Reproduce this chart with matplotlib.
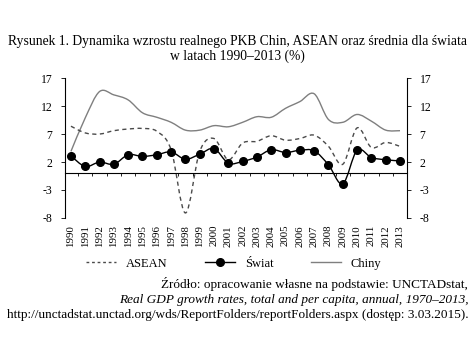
import numpy as np
import matplotlib
matplotlib.use("Agg")
import matplotlib.pyplot as plt
from matplotlib.path import Path
from matplotlib.patches import PathPatch
from matplotlib.lines import Line2D

plt.rcParams['font.family'] = ['Liberation Serif', 'DejaVu Serif']

years = np.arange(1990, 2014)
chiny = [3.9, 9.9, 14.6, 14.0, 13.1, 10.8, 10.0, 9.1, 7.7, 7.7, 8.5, 8.3,
         9.1, 10.1, 10.0, 11.6, 12.8, 14.2, 9.6, 9.1, 10.5, 9.3, 7.7, 7.6]
asean = [8.4, 7.2, 7.0, 7.6, 7.9, 8.0, 7.5, 4.2, -7.1, 3.9, 6.2, 2.4,
         5.4, 5.7, 6.7, 5.9, 6.2, 6.8, 4.8, 1.6, 8.1, 4.6, 5.5, 4.8]
swiat = [3.1, 1.2, 2.0, 1.6, 3.3, 3.0, 3.3, 3.8, 2.5, 3.4, 4.4, 1.8,
         2.1, 2.9, 4.2, 3.7, 4.1, 4.0, 1.5, -1.9, 4.1, 2.8, 2.4, 2.2]
yticks = [17, 12, 7, 2, -3, -8]


def smooth_path(x, y):
    # gladka linia jak w Excelu (Catmull-Rom -> Bezier)
    p = np.column_stack([x, y]).astype(float)
    pe = np.vstack([p[0], p, p[-1]])
    verts = [p[0]]
    codes = [Path.MOVETO]
    for i in range(len(p) - 1):
        p0, p1, p2, p3 = pe[i], pe[i + 1], pe[i + 2], pe[i + 3]
        verts += [p1 + (p2 - p0) / 6, p2 - (p3 - p1) / 6, p2]
        codes += [Path.CURVE4] * 3
    return Path(verts, codes)


fig = plt.figure(figsize=(4.74, 3.55), dpi=100)
ax = fig.add_axes([0.137, 0.386, 0.722, 0.394])

ax.add_patch(PathPatch(smooth_path(years, chiny), fill=False, ec='#7f7f7f', lw=1.0))
ax.add_patch(PathPatch(smooth_path(years, asean), fill=False, ec='#4a4a4a', lw=1.0, ls=(0, (3, 2.5))))
ax.add_patch(PathPatch(smooth_path(years, swiat), fill=False, ec='black', lw=1.0))
ax.plot(years, swiat, 'o', color='black', ms=5.5, ls='none')

ax.set_xlim(1989.58, 2013.5)
ax.set_ylim(-8, 17)

ax.spines['top'].set_color('none')
ax.spines['right'].set_color('none')
ax.spines['bottom'].set_position(('data', 0))
ax.spines['bottom'].set_linewidth(0.8)
ax.spines['left'].set_linewidth(0.8)
ax.set_xticks(years[:-1] + 0.5)
ax.set_xticklabels([])
ax.tick_params(axis='x', direction='out', length=2, width=0.6)
ax.set_yticks(yticks)
ax.set_yticklabels([str(v) for v in yticks])
ax.tick_params(axis='y', direction='out', length=3, width=0.6, labelsize=8.5, pad=6)

ax2 = ax.twinx()
ax2.set_ylim(-8, 17)
ax2.set_yticks(yticks)
ax2.set_yticklabels([str(v) for v in yticks])
for s in ['top', 'bottom', 'left']:
    ax2.spines[s].set_color('none')
ax2.spines['right'].set_linewidth(0.8)
ax2.tick_params(axis='y', direction='out', length=3, width=0.6, labelsize=8.5, pad=6)

sec = ax.secondary_xaxis(0)
sec.set_xticks(years)
sec.set_xticklabels([str(y) for y in years], rotation=90, fontsize=7.8)
sec.tick_params(length=0, pad=5)
sec.spines['bottom'].set_color('none')

handles = [
    Line2D([], [], color='#4a4a4a', lw=1.0, ls=(0, (2, 2))),
    Line2D([], [], color='black', lw=1.0, marker='o', ms=5.5),
    Line2D([], [], color='#7f7f7f', lw=1.0),
]
fig.legend(handles, ['ASEAN', 'Świat', 'Chiny'], loc='center', bbox_to_anchor=(0.493, 0.257),
           ncol=3, frameon=False, fontsize=9, handlelength=2.4, columnspacing=3.0, handletextpad=0.8)

fig.text(0.5, 0.882, 'Rysunek 1. Dynamika wzrostu realnego PKB Chin, ASEAN oraz średnia dla świata',
         ha='center', va='center', fontsize=9.8)
fig.text(0.5, 0.842, 'w latach 1990–2013 (%)', ha='center', va='center', fontsize=9.8)

fig.text(0.988, 0.2, 'Źródło: opracowanie własne na podstawie: UNCTADstat,', ha='right', va='center', fontsize=9.5)
fig.text(0.988, 0.155, 'Real GDP growth rates, total and per capita, annual, 1970–2013,', ha='right', va='center',
         fontsize=9.5, style='italic')
fig.text(0.988, 0.112, 'http://unctadstat.unctad.org/wds/ReportFolders/reportFolders.aspx (dostęp: 3.03.2015).',
         ha='right', va='center', fontsize=9.5)

fig.savefig('out.png', dpi=100)
